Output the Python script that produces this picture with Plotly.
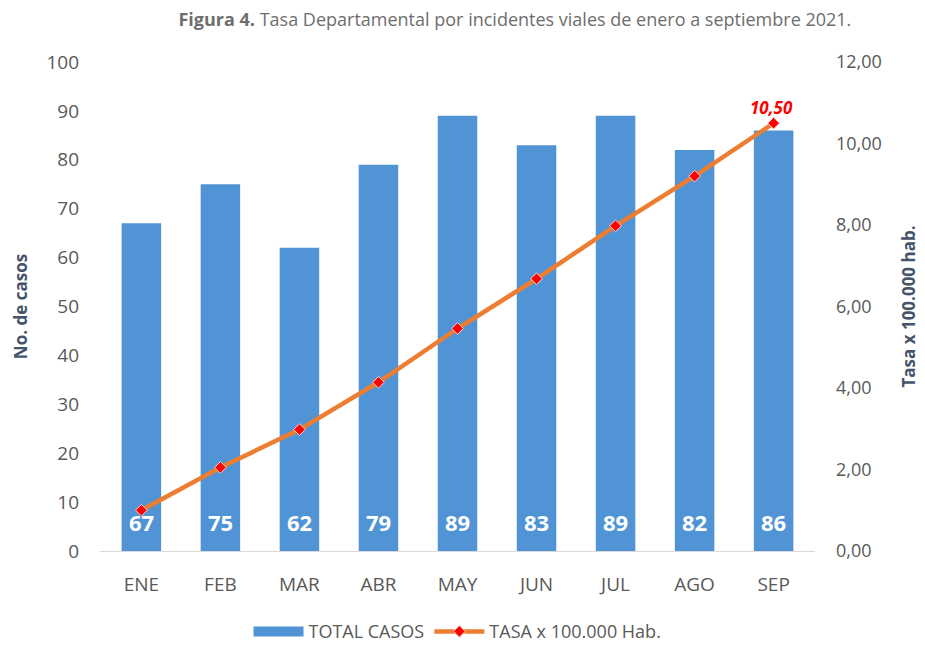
import plotly.graph_objects as go

months = ["ENE", "FEB", "MAR", "ABR", "MAY", "JUN", "JUL", "AGO", "SEP"]
total_casos = [67, 75, 62, 79, 89, 83, 89, 82, 86]
tasa = [1.0, 2.05, 2.98, 4.14, 5.46, 6.68, 7.98, 9.2, 10.5]
left_ticks = list(range(0, 101, 10))
right_ticks = [0, 2, 4, 6, 8, 10, 12]
right_labels = ["0,00", "2,00", "4,00", "6,00", "8,00", "10,00", "12,00"]

GRAY = "#595959"
AXIS_TITLE = "#44546A"
BLUE = "#5094D6"
FONT = "Open Sans"

fig = go.Figure()
fig.add_trace(go.Bar(
    x=months, y=total_casos, name="TOTAL CASOS",
    marker=dict(color=BLUE, line=dict(width=0)),
    width=0.5, showlegend=False, yaxis="y",
))
# legend-only entry so the bar key shows as a wide rectangle
fig.add_trace(go.Scatter(
    x=[None], y=[None], name="TOTAL CASOS", mode="lines",
    line=dict(color=BLUE, width=10),
))
fig.add_trace(go.Scatter(
    x=months, y=tasa, name="TASA x 100.000 Hab.", mode="lines+markers",
    line=dict(color="#ED7D31", width=4.5),
    marker=dict(symbol="diamond", color="#FF0000", size=9,
                line=dict(color="#FFD0D0", width=1)),
    yaxis="y2",
))
# value labels near the bottom of each bar
for m, v in zip(months, total_casos):
    fig.add_annotation(x=m, y=6, yref="y", text=f"<b>{v}</b>", showarrow=False,
                       font=dict(color="white", size=22, family=FONT))
fig.add_annotation(
    x=months[-1], y=tasa[-1], yref="y2", text="<b><i>10,50</i></b>",
    showarrow=False, yshift=16, xshift=-2,
    font=dict(color="#FF0000", size=17, family=FONT),
)

# page has an 8px body margin, so the figure sits 8px right/down in the window
fig.update_layout(
    width=925, height=647,
    margin=dict(l=92, r=118, t=54, b=104, autoexpand=False),
    plot_bgcolor="white", paper_bgcolor="white",
    font=dict(family=FONT, color=GRAY, size=16),
    title=dict(
        text="<b>Figura 4.</b> Tasa Departamental por incidentes viales de enero a septiembre 2021.",
        x=0.548, xanchor="center", y=1 - 12 / 647, yanchor="middle",
        font=dict(size=18, color="#6E6E6E", family=FONT),
    ),
    xaxis=dict(showgrid=False, showline=True, linecolor="#D9D9D9", linewidth=1,
               ticks="", ticklabelstandoff=16, automargin=False,
               tickfont=dict(size=19, color=GRAY)),
    yaxis=dict(range=[0, 100], tickvals=left_ticks, showgrid=False, zeroline=False,
               ticklabelstandoff=20, automargin=False,
               tickfont=dict(size=19, color=GRAY),
               title=dict(text="<b>No. de casos</b>", standoff=14,
                          font=dict(size=17, color=AXIS_TITLE))),
    yaxis2=dict(range=[0, 12], tickvals=right_ticks, ticktext=right_labels,
                overlaying="y", side="right", showgrid=False, zeroline=False,
                ticklabelstandoff=20, automargin=False,
                tickfont=dict(size=18, color=GRAY),
                title=dict(text="<b>Tasa x 100.000 hab.</b>", standoff=22,
                           font=dict(size=17, color=AXIS_TITLE))),
    legend=dict(orientation="h", x=0.5, xanchor="center", y=-0.165, yanchor="middle",
                font=dict(size=18, color=GRAY), traceorder="normal",
                tracegroupgap=0, itemwidth=50),
)

fig.write_html("out.html")
